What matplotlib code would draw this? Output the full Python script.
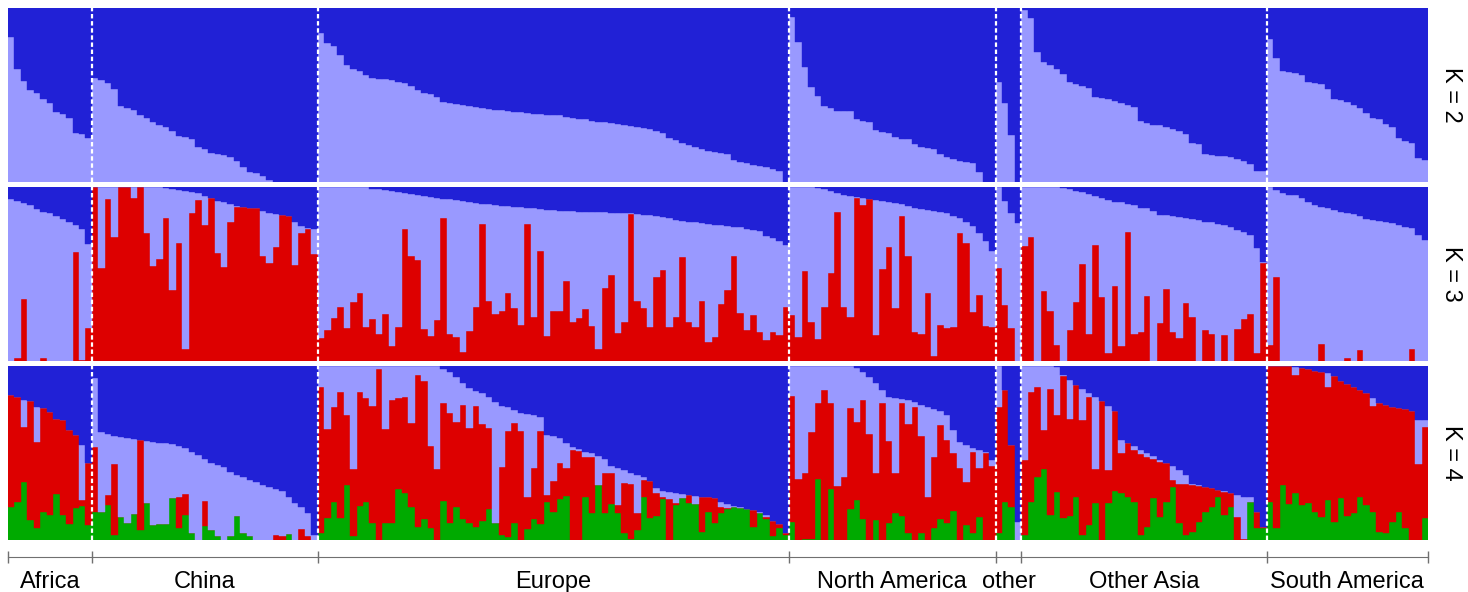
import numpy as np
import matplotlib
matplotlib.use('Agg')
import matplotlib.pyplot as plt

plt.rcParams['font.family'] = ['Liberation Sans', 'DejaVu Sans']

groups = ['Africa', 'China', 'Europe', 'North America', 'other', 'Other Asia', 'South America']

DARK = '#2121D6'
LIGHT = '#9999FF'
RED = '#DD0000'
GREEN = '#00AA00'

# K = 2 : share of the light blue cluster (rest is dark blue), one list per group
k2_light = [
    [0.837, 0.648, 0.581, 0.529, 0.51, 0.475, 0.452, 0.40, 0.388, 0.365, 0.279, 0.273, 0.25],
    [0.60, 0.587, 0.567, 0.533, 0.437, 0.423, 0.413, 0.385, 0.365, 0.346, 0.327, 0.317, 0.294, 0.263,
     0.26, 0.244, 0.202, 0.187, 0.167, 0.16, 0.152, 0.144, 0.119, 0.087, 0.058, 0.052, 0.033, 0.01,
     0, 0, 0, 0, 0, 0, 0],
    [0.856, 0.798, 0.783, 0.731, 0.673, 0.648, 0.64, 0.615, 0.60, 0.594,
     0.59, 0.585, 0.577, 0.567, 0.552, 0.529, 0.51, 0.504, 0.49, 0.462,
     0.456, 0.45, 0.444, 0.438, 0.433, 0.427, 0.421, 0.415, 0.412, 0.408,
     0.404, 0.40, 0.396, 0.39, 0.388, 0.387, 0.385, 0.383, 0.373, 0.367,
     0.363, 0.36, 0.352, 0.346, 0.342, 0.338, 0.335, 0.329, 0.319, 0.315,
     0.31, 0.302, 0.29, 0.283, 0.254, 0.24, 0.225, 0.21, 0.20, 0.19,
     0.179, 0.171, 0.165, 0.158, 0.127, 0.113, 0.106, 0.098, 0.09, 0.083,
     0.075, 0.063, 0.0],
    [0.952, 0.808, 0.663, 0.544, 0.496, 0.437, 0.423, 0.41, 0.408, 0.406, 0.36, 0.352, 0.346, 0.298,
     0.288, 0.283, 0.256, 0.248, 0.244, 0.217, 0.202, 0.192, 0.187, 0.158, 0.144, 0.129, 0.121,
     0.113, 0.106, 0.054, 0.0, 0.0],
    [0.577, 0.456, 0.269, 0.0],
    [0.99, 0.942, 0.75, 0.692, 0.673, 0.648, 0.621, 0.577, 0.563, 0.552, 0.538, 0.49, 0.483, 0.477,
     0.463, 0.452, 0.44, 0.433, 0.352, 0.337, 0.329, 0.325, 0.317, 0.302, 0.292, 0.275, 0.221, 0.217,
     0.16, 0.154, 0.15, 0.146, 0.142, 0.133, 0.117, 0.102, 0.062, 0.06],
    [0.821, 0.712, 0.638, 0.635, 0.629, 0.613, 0.577, 0.567, 0.563, 0.533, 0.475, 0.471, 0.46, 0.444,
     0.423, 0.398, 0.365, 0.36, 0.333, 0.313, 0.25, 0.235, 0.221, 0.138, 0.125],
]

# K = 3 : top of light blue (1 - dark blue) and top of red (red share)
k3_top = [
    [0.927, 0.92, 0.908, 0.895, 0.87, 0.857, 0.847, 0.832, 0.813, 0.80, 0.78, 0.755, 0.671],
    [1, 1, 1, 1, 1, 1, 1, 1, 1, 1, 1, 0.99, 0.987, 0.981, 0.977, 0.97, 0.962, 0.946, 0.933, 0.92,
     0.912, 0.90, 0.889, 0.885, 0.88, 0.876, 0.862, 0.851, 0.843, 0.837, 0.832, 0.80, 0.774, 0.761,
     0.755],
    [1, 1, 1, 1, 1, 1, 1, 1,
     0.988, 0.984, 0.98, 0.975, 0.97, 0.964, 0.958, 0.952, 0.947, 0.942,
     0.937, 0.932, 0.927, 0.922, 0.917, 0.912, 0.908, 0.903, 0.899, 0.895,
     0.892, 0.889, 0.886, 0.883, 0.879, 0.876, 0.873, 0.869, 0.866, 0.863,
     0.861, 0.859, 0.857, 0.856, 0.855, 0.854, 0.853, 0.851, 0.85, 0.848,
     0.847, 0.845, 0.84, 0.835, 0.83, 0.824, 0.818, 0.811, 0.805, 0.8,
     0.795, 0.79, 0.786, 0.782, 0.778, 0.774, 0.77, 0.766, 0.76, 0.754,
     0.745, 0.72, 0.705, 0.69, 0.665],
    [1.0, 1.0, 1.0, 1.0, 0.99, 0.985, 0.975, 0.965, 0.955, 0.946, 0.94, 0.935, 0.93, 0.926, 0.92,
     0.913, 0.905, 0.898, 0.89, 0.878, 0.874, 0.867, 0.862, 0.855, 0.85, 0.832, 0.818, 0.8, 0.775,
     0.735, 0.69, 0.63],
    [1.0, 0.92, 0.85, 0.79],
    [1, 1, 1, 1, 1, 1, 0.99, 0.985, 0.975, 0.967, 0.96, 0.948, 0.935, 0.925, 0.915, 0.91, 0.9, 0.893,
     0.88, 0.875, 0.86, 0.837, 0.835, 0.832, 0.828, 0.82, 0.815, 0.81, 0.8, 0.795, 0.785, 0.778,
     0.77, 0.752, 0.74, 0.725, 0.65, 0.57],
    [0.996, 0.98, 0.962, 0.952, 0.952, 0.933, 0.914, 0.895, 0.885, 0.876, 0.866, 0.853, 0.847, 0.841,
     0.832, 0.815, 0.809, 0.805, 0.8, 0.79, 0.78, 0.77, 0.761, 0.723, 0.694],
]
k3_red = [
    [0, 0.02, 0.354, 0, 0, 0.02, 0, 0, 0, 0, 0.627, 0.006, 0.187],
    [1.0, 0.532, 0.927, 0.713, 1.0, 1.0, 0.933, 1.0, 0.736, 0.545, 0.583, 0.818, 0.407, 0.679, 0.067,
     0.851, 0.924, 0.78, 0.933, 0.621, 0.541, 0.80, 0.885, 0.885, 0.88, 0.876, 0.602, 0.56, 0.656,
     0.837, 0.832, 0.551, 0.736, 0.755, 0.614],
    [0.130, 0.178, 0.249, 0.312, 0.191, 0.337, 0.392, 0.197, 0.239, 0.153,
     0.27, 0.086, 0.197, 0.757, 0.602, 0.579, 0.185, 0.145, 0.235, 0.818,
     0.153, 0.14, 0.054, 0.174, 0.308, 0.788, 0.342, 0.268, 0.285, 0.388,
     0.302, 0.206, 0.788, 0.254, 0.631, 0.145, 0.285, 0.285, 0.461, 0.226,
     0.245, 0.30, 0.203, 0.067, 0.417, 0.491, 0.159, 0.226, 0.845, 0.342,
     0.302, 0.197, 0.482, 0.52, 0.195, 0.254, 0.595, 0.226, 0.195, 0.346,
     0.107, 0.136, 0.325, 0.407, 0.60, 0.277, 0.178, 0.264, 0.164, 0.122,
     0.168, 0.149, 0.312],
    [0.264, 0.136, 0.518, 0.226, 0.124, 0.312, 0.507, 0.853, 0.312, 0.254, 0.933, 0.895, 0.93, 0.149,
     0.526, 0.656, 0.306, 0.832, 0.602, 0.168, 0.153, 0.392, 0.031, 0.206, 0.191, 0.197, 0.736,
     0.675, 0.283, 0.379, 0.201, 0.197],
    [0.532, 0.321, 0.187, 0.0],
    [0.66, 0.709, 0, 0.402, 0.289, 0.092, 0, 0.178, 0.34, 0.554, 0.153, 0.665, 0.369, 0.044, 0.43,
     0.088, 0.738, 0.155, 0.168, 0.373, 0, 0.216, 0.411, 0.168, 0.13, 0.335, 0.25, 0, 0.178, 0.155,
     0, 0.149, 0, 0.182, 0.239, 0.268, 0.044, 0.56],
    [0.092, 0.48, 0, 0, 0, 0, 0, 0, 0.096, 0, 0, 0, 0.015, 0, 0.063, 0, 0, 0, 0, 0, 0, 0, 0.067, 0, 0],
]

# K = 4 : top of light blue, top of red, top of green (green sits at the bottom)
k4_top = [
    [0.833, 0.82, 0.805, 0.80, 0.766, 0.757, 0.738, 0.693, 0.69, 0.632, 0.603, 0.546, 0.44],
    [0.929, 0.623, 0.609, 0.598, 0.59, 0.584, 0.579, 0.575, 0.571, 0.565, 0.559, 0.556, 0.552, 0.54,
     0.527, 0.508, 0.489, 0.464, 0.44, 0.431, 0.418, 0.393, 0.374, 0.36, 0.345, 0.335, 0.316, 0.303,
     0.291, 0.282, 0.249, 0.21, 0.188, 0.153, 0.029],
    [1, 1, 1, 1, 1, 1, 1, 1, 1, 1, 1, 1, 1, 1, 1, 1, 1, 1, 1,
     0.98, 0.967, 0.939, 0.904, 0.872, 0.856, 0.843, 0.824, 0.795, 0.772,
     0.762, 0.747, 0.728, 0.722, 0.718, 0.709, 0.603, 0.598, 0.584, 0.556,
     0.533, 0.521, 0.508, 0.498, 0.483, 0.464, 0.425, 0.412, 0.402, 0.387,
     0.374, 0.364, 0.341, 0.297, 0.284, 0.276, 0.268, 0.262, 0.259, 0.255,
     0.249, 0.245, 0.239, 0.22, 0.207, 0.195, 0.188, 0.18, 0.172, 0.161,
     0.144, 0.111, 0.092, 0.038],
    [1, 1, 1, 1, 1, 1, 1, 1, 1, 1, 0.987, 0.967, 0.939, 0.904, 0.862, 0.824, 0.814, 0.808, 0.805,
     0.795, 0.776, 0.766, 0.751, 0.743, 0.718, 0.632, 0.565, 0.546, 0.527, 0.517, 0.508, 0.46],
    [1.0, 0.862, 0.546, 0.105],
    [1, 1, 1, 1, 1, 0.992, 0.95, 0.92, 0.89, 0.87, 0.843, 0.82, 0.80, 0.77, 0.743, 0.577, 0.556,
     0.54, 0.517, 0.498, 0.48, 0.46, 0.44, 0.425, 0.402, 0.374, 0.32, 0.316, 0.307, 0.297, 0.289,
     0.28, 0.27, 0.257, 0.25, 0.245, 0.163, 0.077],
    [1, 1, 1, 1, 0.996, 0.987, 0.981, 0.973, 0.967, 0.962, 0.943, 0.916, 0.897, 0.881, 0.862, 0.843,
     0.814, 0.789, 0.776, 0.766, 0.757, 0.751, 0.743, 0.69, 0.69],
]
k4_red = [
    [0.833, 0.82, 0.651, 0.80, 0.565, 0.757, 0.738, 0.693, 0.69, 0.632, 0.603, 0.23, 0.44],
    [0.536, 0, 0.259, 0.437, 0, 0, 0, 0.579, 0, 0, 0, 0, 0, 0.249, 0.262, 0, 0, 0.226, 0, 0, 0, 0,
     0, 0, 0, 0, 0, 0, 0.029, 0.023, 0, 0, 0.063, 0.023, 0],
    [0.881, 0.636, 0.766, 0.852, 0.718, 0.406, 0.852, 0.814, 0.770, 0.981,
     0.636, 0.805, 0.814, 0.824, 0.674, 0.948, 0.916, 0.540, 0.406, 0.785,
     0.728, 0.680, 0.776, 0.642, 0.770, 0.665, 0.642, 0.100, 0.421, 0.628,
     0.674, 0.628, 0.245, 0.412, 0.628, 0.259, 0.341, 0.441, 0.412, 0.517,
     0.513, 0.479, 0.479, 0.316, 0.383, 0.383, 0.199, 0.326, 0.322, 0.157,
     0.345, 0.341, 0.272, 0.245, 0.234, 0.211, 0.239, 0.259, 0.207, 0.249,
     0.245, 0.245, 0.192, 0.182, 0.182, 0.182, 0.182, 0.176, 0.157, 0.134,
     0.111, 0.092, 0.038],
    [0.828, 0.349, 0.383, 0.623, 0.785, 0.862, 0.785, 0.31, 0.364, 0.757, 0.68, 0.805, 0.609, 0.383,
     0.785, 0.571, 0.383, 0.789, 0.667, 0.766, 0.598, 0.245, 0.475, 0.661, 0.575, 0.502, 0.412,
     0.335, 0.508, 0.412, 0.498, 0.425],
    [0.766, 0.862, 0.546, 0.0],
    [0.46, 0.852, 0.877, 0.632, 0.866, 0.718, 0.943, 0.693, 0.891, 0.69, 0.82, 0.406, 0.80, 0.4,
     0.743, 0.498, 0.556, 0.517, 0.494, 0.479, 0.464, 0.45, 0.44, 0.345, 0.322, 0.322, 0.316, 0.31,
     0.307, 0.297, 0.287, 0.278, 0.268, 0.134, 0.004, 0.22, 0.163, 0.077],
    [1, 1, 1, 1, 0.948, 0.987, 0.981, 0.973, 0.967, 0.877, 0.943, 0.916, 0.897, 0.881, 0.862, 0.843,
     0.77, 0.789, 0.776, 0.766, 0.757, 0.751, 0.743, 0.437, 0.651],
]
k4_green = [
    [0.192, 0.22, 0.335, 0.115, 0.067, 0.163, 0.144, 0.264, 0.144, 0.092, 0.182, 0.197, 0.086],
    [0.163, 0.163, 0.201, 0.029, 0.134, 0.1, 0.149, 0.057, 0.211, 0.086, 0.09, 0.092, 0.24, 0.067,
     0.144, 0.042, 0, 0.082, 0.057, 0.023, 0, 0.023, 0.138, 0.042, 0.023, 0, 0, 0, 0, 0, 0.034, 0,
     0, 0, 0],
    [0.038, 0.125, 0.220, 0.125, 0.316, 0.023, 0.197, 0.220, 0.100, 0.0,
     0.100, 0.100, 0.291, 0.272, 0.192, 0.077, 0.119, 0.067, 0.0, 0.226,
     0.096, 0.192, 0.119, 0.096, 0.077, 0.111, 0.178, 0.096, 0.029, 0.019,
     0.100, 0.0, 0.061, 0.119, 0.092, 0.220, 0.163, 0.234, 0.253, 0.0,
     0.0, 0.245, 0.153, 0.316, 0.153, 0.207, 0.153, 0.038, 0.004, 0.057,
     0.245, 0.125, 0.138, 0.234, 0.0, 0.201, 0.239, 0.211, 0.207, 0.048,
     0.163, 0.100, 0.153, 0.176, 0.188, 0.182, 0.182, 0.077, 0.153, 0.119,
     0.023, 0.067, 0.029],
    [0.105, 0, 0.004, 0.004, 0.349, 0, 0.291, 0, 0, 0.176, 0.23, 0.119, 0, 0.115, 0, 0.096, 0.157,
     0.138, 0.038, 0, 0.042, 0, 0.067, 0.119, 0.096, 0.169, 0, 0.086, 0.038, 0.134, 0, 0],
    [0.04, 0.22, 0.19, 0.0],
    [0.029, 0.22, 0.364, 0.406, 0.144, 0.278, 0.125, 0.138, 0.249, 0.029, 0.086, 0.211, 0, 0.211,
     0.28, 0.27, 0.245, 0.22, 0.029, 0.077, 0.239, 0.134, 0.22, 0.307, 0.1, 0.029, 0.048, 0.105,
     0.163, 0.192, 0.245, 0.144, 0.192, 0, 0, 0.22, 0.067, 0.067],
    [0.22, 0.067, 0.316, 0.207, 0.268, 0.201, 0.211, 0.163, 0.134, 0.23, 0.105, 0.239, 0.138, 0.157,
     0.249, 0.201, 0.163, 0.048, 0.042, 0.105, 0.163, 0.067, 0, 0, 0.128],
]

counts = [len(g) for g in k2_light]
for name, table in [('k3_top', k3_top), ('k3_red', k3_red), ('k4_top', k4_top),
                    ('k4_red', k4_red), ('k4_green', k4_green)]:
    for gname, c, g in zip(groups, counts, table):
        if len(g) != c:
            raise ValueError('%s %s: %d != %d' % (name, gname, len(g), c))

bounds = np.concatenate([[0], np.cumsum(counts)])
centers = (bounds[:-1] + bounds[1:]) / 2
n = bounds[-1]
x = np.arange(n)


def flat(t):
    return np.concatenate([np.array(g, dtype=float) for g in t])


# stacked layers, bottom to top
l2 = flat(k2_light)
layers2 = [(l2, LIGHT), (1 - l2, DARK)]

t3 = flat(k3_top)
r3 = np.minimum(flat(k3_red), t3)
layers3 = [(r3, RED), (t3 - r3, LIGHT), (1 - t3, DARK)]

t4 = flat(k4_top)
r4 = np.minimum(flat(k4_red), t4)
g4 = flat(k4_green)
r4 = np.maximum(r4, np.minimum(g4, t4))
g4 = np.minimum(g4, r4)
layers4 = [(g4, GREEN), (r4 - g4, RED), (t4 - r4, LIGHT), (1 - t4, DARK)]

W, H = 1468, 592
fig = plt.figure(figsize=(W / 100, H / 100), dpi=100)


def panel(y0, y1, layers, k):
    ax = fig.add_axes([8 / W, 1 - y1 / H, 1420 / W, (y1 - y0) / H])
    bottom = np.zeros(n)
    for h, c in layers:
        ax.bar(x, h, width=1.0, bottom=bottom, align='edge', color=c, edgecolor=c, linewidth=0.3)
        bottom = bottom + h
    for b in bounds[1:-1]:
        ax.axvline(b, color='white', lw=1.6, ls=(0, (2, 1.2)))
    ax.set_xlim(0, n)
    ax.set_ylim(0, 1)
    ax.set_yticks([])
    ax.set_xticks([])
    for s in ax.spines.values():
        s.set_visible(False)
    ax.text(1.0165, 0.5, 'K = %d' % k, transform=ax.transAxes, rotation=-90,
            ha='center', va='center', fontsize=17)
    return ax


panel(8.3, 181.7, layers2, 2)
panel(186.7, 361, layers3, 3)
ax4 = panel(366, 540, layers4, 4)

# group axis under the last panel
ax4.spines['bottom'].set_visible(True)
ax4.spines['bottom'].set_position(('outward', 12.2))
ax4.spines['bottom'].set_color('#707070')
ax4.set_xticks(bounds)
ax4.tick_params(axis='x', which='major', direction='inout', length=8.5, width=1,
                color='#707070', labelbottom=False)
ax4.set_xticks(centers, minor=True)
ax4.set_xticklabels(groups, minor=True, fontsize=17)
ax4.tick_params(axis='x', which='minor', length=0, pad=10)

fig.savefig('out.png', dpi=100)
